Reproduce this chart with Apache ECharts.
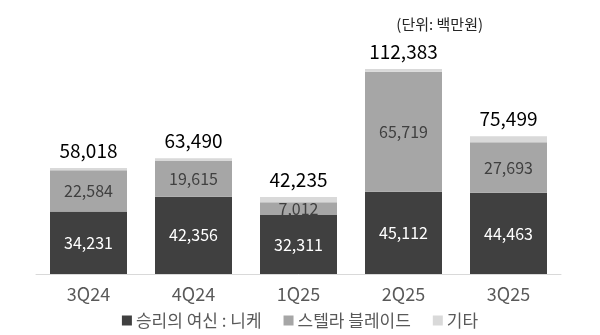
<!DOCTYPE html>
<html><head><meta charset="utf-8">
<script src="https://cdn.jsdelivr.net/npm/echarts@6/dist/echarts.min.js"></script>
<style>html,body{margin:0;padding:0;background:#fff}#c{width:600px;height:335px}</style>
</head><body><div id="c"></div>
<script>
const categories = ['3Q24','4Q24','1Q25','2Q25','3Q25'];
const nikke = [34231, 42356, 32311, 45112, 44463];
const stellar = [22584, 19615, 7012, 65719, 27693];
const others = [1203, 1519, 2912, 1552, 3343];
const totals = [58018, 63490, 42235, 112383, 75499];
const seriesNames = ['승리의 여신 : 니케', '스텔라 블레이드', '기타'];
const unitText = '(단위: 백만원)';

const font = '"Noto Sans CJK KR", "Noto Sans", sans-serif';
const fmt = v => v.toLocaleString('en-US');
const chart = echarts.init(document.getElementById('c'));
chart.setOption({
  animation: false,
  textStyle: { fontFamily: font },
  title: { text: unitText, right: 112, top: 12, textStyle: { fontSize: 15, fontWeight: 'normal', color: '#262626', fontFamily: font } },
  legend: {
    bottom: 1, left: 'center', itemWidth: 10, itemHeight: 10, itemGap: 22, icon: 'rect',
    textStyle: { fontSize: 17, color: '#595959', fontFamily: font, padding: [0, 0, 0, -1] },
    data: seriesNames
  },
  grid: { left: 36, right: 39, top: 55, bottom: 61 },
  xAxis: {
    type: 'category', data: categories,
    axisLine: { lineStyle: { color: '#d9d9d9', width: 1 } },
    axisTick: { show: false },
    axisLabel: { fontSize: 18, color: '#595959', margin: 11, fontFamily: font }
  },
  yAxis: { type: 'value', min: 0, max: 120000, show: false, splitLine: { show: false } },
  series: [
    { name: seriesNames[0], type: 'bar', stack: 't', data: nikke, barWidth: 77,
      itemStyle: { color: '#404040' },
      label: { show: true, position: 'inside', color: '#ffffff', fontSize: 16, formatter: p => fmt(p.value), fontFamily: font } },
    { name: seriesNames[1], type: 'bar', stack: 't', data: stellar, barWidth: 77,
      itemStyle: { color: '#a6a6a6' },
      label: { show: true, position: 'inside', color: '#404040', fontSize: 16, formatter: p => fmt(p.value), fontFamily: font } },
    { name: seriesNames[2], type: 'bar', stack: 't', data: others, barWidth: 77,
      itemStyle: { color: '#d9d9d9' },
      label: { show: true, position: 'top', distance: 8, color: '#000000', fontSize: 19, formatter: p => fmt(totals[p.dataIndex]), fontFamily: font } }
  ]
});
</script></body></html>
